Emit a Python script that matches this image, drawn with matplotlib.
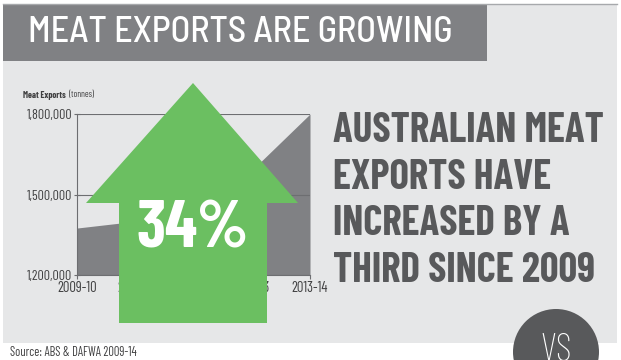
import matplotlib
matplotlib.use("Agg")
import matplotlib.pyplot as plt
from matplotlib.patches import Rectangle, Polygon, Circle

# Meat exports by financial year (tonnes)
years = ['2009-10', '2010-11', '2011-12', '2012-13', '2013-14']
exports = [1375000, 1400000, 1500000, 1590000, 1800000]
y_ticks = [1200000, 1500000, 1800000]
y_tick_labels = ['1,200,000', '1,500,000', '1,800,000']

growth_label = '34%'
headline = ['AUSTRALIAN MEAT', 'EXPORTS HAVE', 'INCREASED BY A', 'THIRD SINCE 2009']

narrow = ['Barlow Condensed', 'Roboto Condensed', 'DejaVu Sans']
semi = ['Barlow Semi Condensed', 'Roboto Condensed', 'DejaVu Sans']
panel_grey = '#e6e7e8'
bar_grey = '#808184'
dark_grey = '#58595b'
text_grey = '#404041'
green = '#6bbf61'

W, H = 621, 360
fig = plt.figure(figsize=(W / 100, H / 100), dpi=100)
fig.patch.set_facecolor('white')

# background layer in pixel coordinates
bg = fig.add_axes([0, 0, 1, 1], zorder=0)
bg.set_xlim(0, W)
bg.set_ylim(H, 0)
bg.axis('off')
bg.add_patch(Rectangle((3, 4), 614, 339, facecolor=panel_grey, edgecolor='none'))
bg.plot([3, 617], [4, 4], color='#a7a9ac', lw=1)
bg.add_patch(Rectangle((3, 4), 484, 57, facecolor=bar_grey, edgecolor='none'))
bg.text(28, 32, 'MEAT EXPORTS ARE GROWING', family=semi, fontsize=26,
        fontweight='medium', color='white', va='center', ha='left')

lbl = bg.text(23, 95, 'Meat Exports', family=narrow, fontsize=6.5,
              fontweight='bold', color=text_grey, va='center', ha='left')
bg.annotate('(tonnes)', xy=(1, 0.5), xycoords=lbl, xytext=(2, 0),
            textcoords='offset points', family=narrow, fontsize=6.5,
            color=text_grey, va='center', ha='left')

# area chart
ax = fig.add_axes([77 / W, (H - 275) / H, 233 / W, 161 / H], zorder=1)
ax.patch.set_alpha(0)
x = list(range(len(years)))
ax.fill_between(x, y_ticks[0], exports, color=bar_grey, linewidth=0, zorder=1)
ax.set_xlim(0, len(years) - 1)
ax.set_ylim(y_ticks[0], y_ticks[-1])
ax.set_xticks(x)
ax.set_xticklabels(years, family=narrow, fontsize=10.5, color=text_grey)
ax.set_yticks(y_ticks)
ax.set_yticklabels(y_tick_labels, family=narrow, fontsize=10, color=text_grey)
ax.tick_params(axis='y', direction='inout', length=5, width=0.8,
               color='#6d6e71', pad=1)
ax.tick_params(axis='x', direction='out', length=3, width=0.8,
               color='#6d6e71', pad=1)
ax.set_axisbelow(False)
ax.yaxis.grid(True, color='#6d6e71', lw=0.8)
for side in ['top', 'right']:
    ax.spines[side].set_visible(False)
for side in ['left', 'bottom']:
    ax.spines[side].set_color('#6d6e71')
    ax.spines[side].set_linewidth(0.8)

# foreground layer: arrow, headline, badge
fg = fig.add_axes([0, 0, 1, 1], zorder=2)
fg.patch.set_alpha(0)
fg.set_xlim(0, W)
fg.set_ylim(H, 0)
fg.axis('off')
arrow = [(193, 83), (298, 203), (267, 203), (267, 323),
         (119, 323), (119, 203), (86, 203)]
fg.add_patch(Polygon(arrow, closed=True, facecolor=green, edgecolor='none'))
fg.text(193, 231, growth_label, family=narrow, fontsize=48, fontweight='bold',
        color='white', ha='center', va='center')

for i, line in enumerate(headline):
    fg.text(333, 131 + i * 46.7, line, family=narrow, fontsize=29.5,
            fontweight='bold', color=dark_grey, ha='left', va='center')

fg.add_patch(Circle((556, 352), 43, facecolor=dark_grey, edgecolor='none'))
fg.text(556, 351, 'VS', family=narrow, fontsize=28, fontweight='light',
        color='white', ha='center', va='center')

fg.text(10, 352, 'Source: ABS & DAFWA 2009-14', family=narrow, fontsize=9,
        color=text_grey, ha='left', va='center')

fig.savefig('out.png', dpi=100)
